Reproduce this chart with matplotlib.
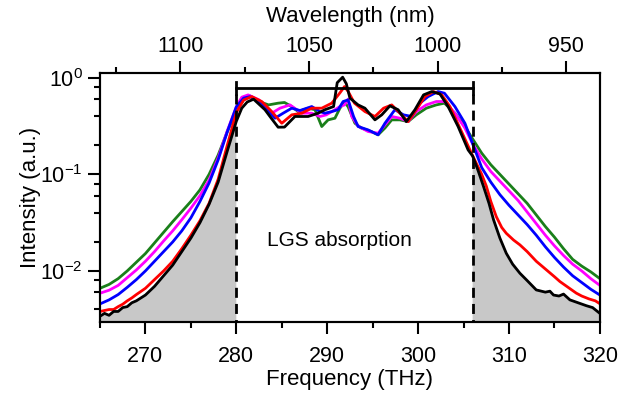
import numpy as np
import matplotlib
matplotlib.use("Agg")
import matplotlib.pyplot as plt
from matplotlib.ticker import FixedLocator, LogLocator, NullFormatter, LogFormatterSciNotation, MultipleLocator

plt.rcParams['font.family'] = ['Liberation Sans', 'DejaVu Sans']
plt.rcParams['mathtext.fontset'] = 'custom'
plt.rcParams['mathtext.rm'] = 'Liberation Sans'
plt.rcParams['mathtext.it'] = 'Liberation Sans:italic'
plt.rcParams['mathtext.default'] = 'regular'
plt.rcParams['axes.unicode_minus'] = False

# ---------------- data: frequency (THz) and log10 of intensity (a.u.) ----------------
freq_green = [265, 266, 267, 268, 269, 270, 271, 272, 273, 274, 275, 276, 277, 278, 279, 280, 280.8, 281.5,
              282.5, 283.55, 284.6, 285.3, 286.1, 286.8, 287.9, 288.65, 289.4, 290.1, 290.85, 291.4,
              291.9, 292.3, 293.05, 293.75, 294.85, 295.6, 296.35, 297.1, 298.0, 298.9, 299.8, 300.9,
              302.0, 302.9, 304.05, 305.15, 306.07, 307, 308, 309, 310, 311, 312, 313, 314, 315, 316,
              317, 318, 319, 320]
logi_green = [-2.18, -2.14, -2.08, -2.00, -1.91, -1.82, -1.71, -1.60, -1.49, -1.385, -1.28, -1.16, -1.00,
              -0.80, -0.56, -0.34, -0.228, -0.187,
              -0.245, -0.28, -0.262, -0.255, -0.297, -0.349, -0.314, -0.33, -0.504, -0.435, -0.418, -0.314,
              -0.25, -0.30, -0.47, -0.52, -0.556, -0.59, -0.52, -0.435, -0.435, -0.453, -0.383, -0.314,
              -0.28, -0.262, -0.366, -0.504, -0.643, -0.78, -0.90, -1.00, -1.10, -1.20, -1.30, -1.42,
              -1.54, -1.65, -1.77, -1.88, -1.95, -2.01, -2.08]

freq_magenta = [265, 266, 267, 268, 269, 270, 271, 272, 273, 274, 275, 276, 277, 278, 279, 280, 280.6, 281.3,
                282.5, 283.4, 283.9, 284.8, 285.9, 287.2, 288.3, 289.2, 289.9, 290.85, 291.4, 291.9, 292.3,
                292.7, 293.4, 294.5, 295.6, 296.35, 297.1, 298.0, 298.9, 299.8, 300.9, 302.0, 302.9, 304.05,
                305.15, 306.07, 307, 308, 309, 310, 311, 312, 313, 314, 315, 316, 317, 318, 319, 320]
logi_magenta = [-2.231, -2.20, -2.15, -2.07, -1.99, -1.90, -1.80, -1.69, -1.585, -1.47, -1.35, -1.22, -1.06,
                -0.83, -0.55, -0.30, -0.20, -0.176,
                -0.228, -0.33, -0.366, -0.314, -0.28, -0.366, -0.366, -0.40, -0.383, -0.33, -0.297, -0.28,
                -0.22, -0.40, -0.50, -0.556, -0.573, -0.487, -0.40, -0.418, -0.453, -0.349, -0.28, -0.245,
                -0.245, -0.366, -0.52, -0.695, -0.84, -0.97, -1.07, -1.17, -1.27, -1.39, -1.51, -1.63,
                -1.74, -1.84, -1.93, -2.00, -2.08, -2.15]

freq_blue = [265, 266, 267, 268, 269, 270, 271, 272, 273, 274, 275, 276, 277, 278, 279, 280, 280.8, 281.5,
             282.8, 283.7, 284.25, 285.15, 286.1, 287.0, 288.3, 289.2, 289.75, 290.5, 291.2, 291.75, 292.3,
             292.9, 293.4, 294.5, 295.6, 296.35, 297.45, 298.4, 299.3, 300.2, 301.1, 302.2, 302.9, 304.05,
             305.15, 306.07, 307, 308, 309, 310, 311, 312, 313, 314, 315, 316, 317, 318, 319, 320]
logi_blue = [-2.342, -2.30, -2.245, -2.17, -2.09, -2.00, -1.90, -1.80, -1.70, -1.585, -1.45, -1.28, -1.09,
             -0.85, -0.56, -0.30, -0.21, -0.194,
             -0.262, -0.366, -0.418, -0.366, -0.314, -0.338, -0.297, -0.349, -0.366, -0.349, -0.33, -0.245,
             -0.228, -0.40, -0.504, -0.539, -0.59, -0.47, -0.33, -0.383, -0.40, -0.262, -0.194, -0.142,
             -0.159, -0.297, -0.47, -0.70, -0.93, -1.08, -1.21, -1.32, -1.42, -1.52, -1.63, -1.75,
             -1.86, -1.96, -2.05, -2.12, -2.19, -2.25]

freq_red = [265, 265.5, 266, 266.5, 267, 267.5, 268, 268.5, 269, 270, 271, 272, 273, 274, 275, 276, 277, 278,
            279, 280, 280.8, 281.7, 282.8, 283.9, 285.0, 286.1, 287.2, 288.3, 289.4, 290.5, 291.4, 291.9,
            292.3, 293.0, 294.15, 295.25, 296.2, 297.1, 298.0, 298.9, 299.8, 300.75, 301.7, 302.6, 303.5,
            304.6, 305.7, 306.07, 307, 307.5, 308, 308.6, 309.2, 309.7, 310.5, 311.2, 312, 313, 314, 315,
            315.6, 316.5, 317.4, 318, 318.8, 319.5, 320]
logi_red = [-2.42, -2.41, -2.40, -2.40, -2.37, -2.345, -2.31, -2.28, -2.245, -2.18, -2.09, -2.00, -1.90,
            -1.77, -1.63, -1.48, -1.30, -1.05, -0.70, -0.36, -0.23, -0.194,
            -0.245, -0.349, -0.47, -0.383, -0.366, -0.314, -0.314, -0.262, -0.155, -0.09,
            -0.14, -0.262, -0.349, -0.40, -0.314, -0.28, -0.366, -0.453, -0.33, -0.194, -0.142, -0.176,
            -0.297, -0.52, -0.746, -0.82, -1.00, -1.12, -1.28, -1.437, -1.55, -1.61, -1.68, -1.73,
            -1.80, -1.90, -1.98, -2.06, -2.11, -2.17, -2.23, -2.26, -2.29, -2.31, -2.34]

freq_black = [265, 265.5, 266, 266.5, 267, 267.5, 268, 268.5, 269, 270, 271, 272, 273, 274, 275, 276, 277,
              278, 279, 280, 280.6, 281.2, 281.9, 283.15, 283.7, 284.6, 285.3, 286.45, 287.9, 289.0,
              289.75, 290.7, 291.1, 291.7, 292.1, 292.5, 293.4, 294.15, 295.25, 296.0, 296.9, 297.8,
              298.7, 299.65, 300.6, 301.5, 302.4, 303.3, 304.4, 305.5, 306.0, 306.6, 307.2, 307.8, 308.3,
              309.0, 309.7, 310.4, 311.2, 312.0, 313.0, 314.0, 314.5, 314.9, 315.5, 316.0, 316.7, 317.6,
              318.5, 319.2, 320.0]
logi_black = [-2.47, -2.44, -2.46, -2.42, -2.42, -2.38, -2.37, -2.33, -2.31, -2.25, -2.16, -2.05, -1.94,
              -1.80, -1.66, -1.50, -1.31, -1.08, -0.76, -0.45, -0.314, -0.25, -0.221, -0.33, -0.40,
              -0.511, -0.51, -0.40, -0.40, -0.366, -0.33, -0.297, -0.05, 0.007, -0.06, -0.21, -0.28,
              -0.314, -0.435, -0.383, -0.29, -0.33, -0.453, -0.33, -0.176, -0.142, -0.166, -0.297,
              -0.504, -0.746, -0.81, -0.96, -1.126, -1.30, -1.47, -1.66, -1.817, -1.93, -2.024, -2.10,
              -2.197, -2.22, -2.21, -2.25, -2.26, -2.24, -2.30, -2.33, -2.36, -2.38, -2.44]

band_edges = [280.0, 306.0]      # LGS absorption window (THz)
band_level = 0.794
band_cap_top = 0.916
band_label = "LGS absorption"

wl_major = [1100, 1050, 1000, 950]
wl_minor = [1125, 1075, 1025, 975]
C_NM_THZ = 299792.458

# ---------------- figure ----------------
fig = plt.figure(figsize=(6.21, 3.96), dpi=100)
ax = fig.add_axes([0.161, 0.187, 0.805, 0.629])
ymin, ymax = 2.96e-3, 1.127
xmin, xmax = 265, 320

fb = np.array(freq_black)
ib = np.power(10.0, logi_black)
ax.fill_between(fb, ib, ymin, where=(fb <= band_edges[0]) | (fb >= band_edges[1]),
                color='#c8c8c8', lw=0, zorder=1)

series = [(freq_green, logi_green, '#1a7f1a'),
          (freq_magenta, logi_magenta, '#ff00ff'),
          (freq_blue, logi_blue, '#0000ff'),
          (freq_red, logi_red, '#ff0000'),
          (freq_black, logi_black, '#000000')]
for f, lv, c in series:
    ax.plot(f, np.power(10.0, lv), color=c, lw=2.0, zorder=3,
            solid_joinstyle='round', solid_capstyle='round')

# band marker
ax.plot(band_edges, [band_level, band_level], color='k', lw=2.0, zorder=4)
for e in band_edges:
    ax.plot([e, e], [band_cap_top, 0.68], color='k', lw=2.0, zorder=4)
    ax.plot([e, e], [0.68, ymin], color='k', lw=2.0, zorder=4, linestyle=(0, (3.6, 2.2)))

ax.text(291.4, 0.0205, band_label, ha='center', va='center', fontsize=15)

ax.set_yscale('log')
ax.set_xlim(xmin, xmax)
ax.set_ylim(ymin, ymax)
ax.xaxis.set_major_locator(MultipleLocator(10))
ax.xaxis.set_minor_locator(MultipleLocator(5))
ax.yaxis.set_major_locator(LogLocator(base=10, numticks=10))
ax.yaxis.set_minor_locator(LogLocator(base=10, subs=[2, 4, 6, 8], numticks=10))
ax.yaxis.set_minor_formatter(NullFormatter())
ax.yaxis.set_major_formatter(LogFormatterSciNotation())
ax.tick_params(which='both', direction='out', width=1.5, labelsize=15.5)
ax.tick_params(which='major', length=8.5)
ax.tick_params(which='minor', length=4.5)
ax.tick_params(axis='x', which='major', pad=9)
ax.tick_params(axis='y', which='major', pad=4)
ax.tick_params(top=False, right=False)
for s in ax.spines.values():
    s.set_linewidth(1.5)

ax.set_xlabel('Frequency (THz)', fontsize=16, labelpad=1)
ax.set_ylabel('Intensity (a.u.)', fontsize=16, labelpad=-1)

# top wavelength axis (linear in wavelength)
ax2 = ax.twiny()
ax2.set_xlim(C_NM_THZ / xmin, C_NM_THZ / xmax)
ax2.xaxis.set_major_locator(FixedLocator(wl_major))
ax2.xaxis.set_minor_locator(FixedLocator(wl_minor))
ax2.tick_params(which='both', direction='out', width=1.5, labelsize=15.5)
ax2.tick_params(which='major', length=8.5, pad=3)
ax2.tick_params(which='minor', length=4.5)
ax2.set_xlabel('Wavelength (nm)', fontsize=16, labelpad=10)
for s in ax2.spines.values():
    s.set_linewidth(1.5)

fig.savefig('out.png', dpi=100)
